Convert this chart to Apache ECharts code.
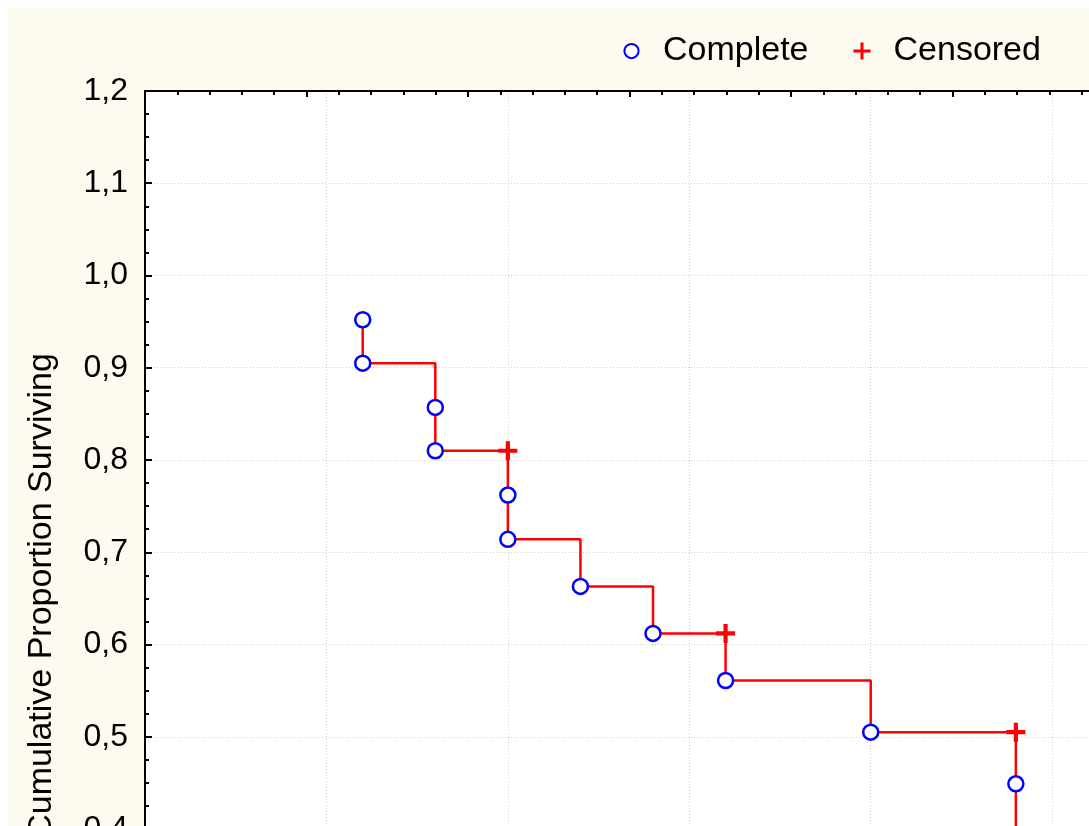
<!DOCTYPE html>
<html>
<head>
<meta charset="utf-8">
<style>
html,body{margin:0;padding:0;width:1089px;height:826px;overflow:hidden;background:#fff;}
#chart{position:absolute;left:0;top:0;width:1250px;height:1000px;}
</style>
<script src="https://cdn.jsdelivr.net/npm/echarts@6/dist/echarts.min.js"></script>
</head>
<body>
<div id="chart"></div>
<script>
// Kaplan-Meier step curve vertices (time, cumulative proportion surviving)
const pathX = [6, 6, 8, 8, 10, 10, 12, 12, 14, 14, 16, 16, 20, 20, 24, 24, 24];
const pathY = [0.952, 0.905, 0.905, 0.810, 0.810, 0.714, 0.714, 0.663, 0.663, 0.612, 0.612, 0.561, 0.561, 0.505, 0.505, 0.449, 0.393];
// Complete (event) observations
const completeX = [6, 6, 8, 8, 10, 10, 12, 14, 16, 20, 24, 24];
const completeY = [0.952, 0.905, 0.857, 0.810, 0.762, 0.714, 0.663, 0.612, 0.561, 0.505, 0.449, 0.393];
// Censored observations
const censoredX = [10, 16, 24];
const censoredY = [0.810, 0.612, 0.505];
// Axes
const xMin = 0, xMax = 28, xStep = 5;
const yMin = 0.3, yMax = 1.2, yStep = 0.1;
const legendNames = ['Complete', 'Censored'];
const yAxisTitle = 'Cumulative Proportion Surviving';

const zip = (a, b) => a.map((v, i) => [v, b[i]]);
const FONT = '"Liberation Sans", Arial, sans-serif';
const PLUS = 'path://M0.39,0H0.61V0.39H1V0.61H0.61V1H0.39V0.61H0V0.39H0.39Z';
const PLUS_LEGEND = 'path://M0.42,0.05H0.58V0.42H0.95V0.58H0.58V0.95H0.42V0.58H0.05V0.42H0.42Z M0,0 M1,1';
const LEGEND_CIRCLE = 'path://M0,0M20,20M10,2.5A7.5,7.5,0,1,1,10,17.5A7.5,7.5,0,1,1,10,2.5Z';

const plotW = 1016, plotH = 830.25;
const chart = echarts.init(document.getElementById('chart'), null, {renderer: 'canvas'});
chart.setOption({
  animation: false,
  backgroundColor: '#ffffff',
  graphic: [
    {type: 'rect', shape: {x: 8, y: 7, width: 1300, height: 1100}, style: {fill: '#fdfaf0'}, z: -10, silent: true},
    {type: 'text', x: 42, y: 596, rotation: Math.PI / 2,
     style: {text: yAxisTitle, font: '34px ' + FONT, fill: '#000', align: 'center', verticalAlign: 'middle'}, z: 10}
  ],
  grid: {left: 145, top: 91, width: plotW, height: plotH, show: true, backgroundColor: '#ffffff',
         borderColor: '#000', borderWidth: 2, containLabel: false, outerBoundsMode: 'none'},
  legend: {
    left: 616, top: 29, itemWidth: 19, itemHeight: 19, itemGap: 44,
    textStyle: {fontFamily: FONT, fontSize: 34, color: '#000', padding: [0, 0, 0, 17]},
    data: [{name: legendNames[0], icon: LEGEND_CIRCLE}, {name: legendNames[1], icon: PLUS_LEGEND}],
    selectedMode: false
  },
  xAxis: [
    {type: 'value', position: 'bottom', min: xMin, max: xMax, interval: xStep,
     axisLine: {show: true, lineStyle: {color: '#000', width: 2}},
     axisTick: {show: true, inside: true, length: 6, lineStyle: {color: '#000', width: 2}},
     axisLabel: {show: false},
     splitLine: {show: true, lineStyle: {color: '#cfcfcf', width: 1, type: [1, 2]}}},
    {type: 'value', position: 'top', min: 0, max: plotW / 32.3, interval: 5,
     axisLine: {show: true, lineStyle: {color: '#000', width: 2}},
     axisTick: {show: true, inside: true, length: 6, lineStyle: {color: '#000', width: 2}},
     minorTick: {show: true, splitNumber: 5, length: 4, lineStyle: {color: '#000', width: 2}},
     axisLabel: {show: false}, splitLine: {show: false}}
  ],
  yAxis: {
    type: 'value', min: yMin, max: yMax, interval: yStep,
    axisLine: {show: true, lineStyle: {color: '#000', width: 2}},
    axisTick: {show: true, inside: true, length: 7, lineStyle: {color: '#000', width: 2}},
    minorTick: {show: true, splitNumber: 4, length: 4, lineStyle: {color: '#000', width: 2}},
    axisLabel: {margin: 17, fontFamily: FONT, fontSize: 32, color: '#000',
                formatter: v => (Math.round(v * 10) / 10).toFixed(1).replace('.', ',')},
    splitLine: {show: true, lineStyle: {color: '#cfcfcf', width: 1, type: [1, 2]}}
  },
  series: [
    {type: 'line', name: 'curve', data: zip(pathX, pathY), showSymbol: false, symbol: 'none',
     lineStyle: {color: '#ff0000', width: 2.5}, z: 2, silent: true},
    {type: 'scatter', name: legendNames[0], data: zip(completeX, completeY), symbol: 'circle', symbolSize: 15,
     itemStyle: {color: '#ffffff', borderColor: '#0000ff', borderWidth: 2.5, opacity: 1}, z: 4},
    {type: 'scatter', name: legendNames[1], data: zip(censoredX, censoredY), symbol: PLUS, symbolSize: 19,
     itemStyle: {color: '#ff0000', opacity: 1}, z: 5}
  ]
});
</script>
</body>
</html>
